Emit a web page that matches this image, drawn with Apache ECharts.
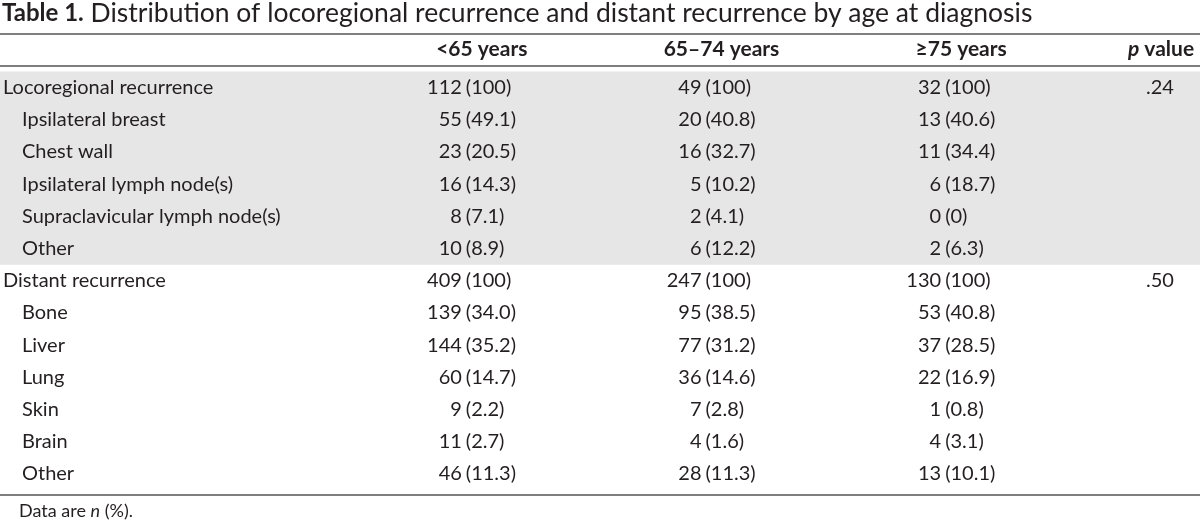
<!DOCTYPE html>
<html><head><meta charset="utf-8">
<script src="https://cdn.jsdelivr.net/npm/echarts@6/dist/echarts.min.js"></script>
<style>html,body{margin:0;padding:0;background:#fff}#c{width:1200px;height:520px}</style>
</head><body><div id="c"></div>
<script>
// ---------------- data ----------------
const titleBold = 'Table 1.';
const titleText = 'Distribution of locoregional recurrence and distant recurrence by age at diagnosis';
const ageHeaders = ['<65 years', '65–74 years', '≥75 years'];
const pHeader = ['p value'];
const rowLabels = [
  'Locoregional recurrence', 'Ipsilateral breast', 'Chest wall', 'Ipsilateral lymph node(s)',
  'Supraclavicular lymph node(s)', 'Other',
  'Distant recurrence', 'Bone', 'Liver', 'Lung', 'Skin', 'Brain', 'Other'
];
const rowIsSubItem = [0, 1, 1, 1, 1, 1, 0, 1, 1, 1, 1, 1, 1];
const shadedRowSpan = [0, 5];
const nUnder65 = [112, 55, 23, 16, 8, 10, 409, 139, 144, 60, 9, 11, 46];
const pctUnder65 = [100, 49.1, 20.5, 14.3, 7.1, 8.9, 100, 34.0, 35.2, 14.7, 2.2, 2.7, 11.3];
const n65to74 = [49, 20, 16, 5, 2, 6, 247, 95, 77, 36, 7, 4, 28];
const pct65to74 = [100, 40.8, 32.7, 10.2, 4.1, 12.2, 100, 38.5, 31.2, 14.6, 2.8, 1.6, 11.3];
const n75plus = [32, 13, 11, 6, 0, 2, 130, 53, 37, 22, 1, 4, 13];
const pct75plus = [100, 40.6, 34.4, 18.7, 0, 6.3, 100, 40.8, 28.5, 16.9, 0.8, 3.1, 10.1];
const pValues = ['.24', '', '', '', '', '', '.50', '', '', '', '', '', ''];
const footnote = 'Data are {i|n} (%).';

// ---------------- build ----------------
const FONT = 'Lato';
const INK = '#231f20';
const FS = 20;
const counts = [nUnder65, n65to74, n75plus];
const pcts = [pctUnder65, pct65to74, pct75plus];
const rowKeys = rowLabels.map((_, i) => 'r' + i);
const cellData = [];
counts.forEach((arr, c) => arr.forEach((n, r) => cellData.push([c, r])));
const pData = [];
pValues.forEach((p, r) => { if (p) pData.push([0, r]); });
function fmtPct(v) { return (v === 100 || v === 0) ? String(v) : v.toFixed(1); }
const txt = (o) => Object.assign({ fontFamily: FONT, fontSize: FS, fill: INK, verticalAlign: 'middle' }, o);
const headerLabel = {
  interval: 0, margin: 22.5, verticalAlign: 'middle',
  fontFamily: FONT, fontSize: 21, fontWeight: 'bold', color: INK,
  rich: { pi: { fontFamily: FONT, fontSize: 21, fontWeight: 'bold', fontStyle: 'italic', color: INK } }
};
const hidden = { axisLine: { show: false }, axisTick: { show: false }, splitLine: { show: false } };

const chart = echarts.init(document.getElementById('c'), null, { renderer: 'canvas' });
chart.setOption({
  animation: false,
  backgroundColor: '#fff',
  title: [
    { text: '{b|' + titleBold + '} ' + titleText, left: 2, top: 0, padding: 0,
      textStyle: { fontFamily: FONT, fontSize: 26.5, fontWeight: 'normal', color: INK,
        rich: { b: { fontFamily: FONT, fontSize: 24, fontWeight: 'bold', color: INK } } } },
    { text: footnote, left: 19, top: 502, padding: 0,
      textStyle: { fontFamily: FONT, fontSize: 18, fontWeight: 'normal', color: INK,
        rich: { i: { fontFamily: FONT, fontSize: 18, fontStyle: 'italic', color: INK } } } }
  ],
  grid: [
    { left: 361, right: 119, top: 71.5, bottom: 30 },
    { left: 1122, right: 0, top: 71.5, bottom: 30 }
  ],
  xAxis: [
    Object.assign({ type: 'category', position: 'top', data: ageHeaders, gridIndex: 0, z: 3, axisLabel: headerLabel }, hidden),
    Object.assign({ type: 'category', position: 'top', data: pHeader, gridIndex: 1, z: 3,
      axisLabel: Object.assign({}, headerLabel, { formatter: (v) => '{pi|p} value' }) }, hidden)
  ],
  yAxis: [
    Object.assign({
      type: 'category', data: rowKeys, inverse: true, gridIndex: 0, z: 3,
      axisLabel: {
        interval: 0, align: 'left', margin: 359,
        fontFamily: FONT, fontSize: FS, color: INK,
        formatter: (v, i) => rowIsSubItem[i] ? '{sub|' + rowLabels[i] + '}' : rowLabels[i],
        rich: { sub: { fontFamily: FONT, fontSize: FS, color: INK, padding: [0, 0, 0, 19] } }
      }
    }, hidden),
    { type: 'category', data: rowKeys, inverse: true, gridIndex: 1, show: false }
  ],
  series: [
    {
      type: 'custom', z: 1, silent: true, xAxisIndex: 0, yAxisIndex: 0,
      data: [shadedRowSpan],
      renderItem: (params, api) => {
        const a = api.coord([0, api.value(0)]);
        const b = api.coord([0, api.value(1)]);
        const h = api.size([0, 1])[1];
        return { type: 'rect', shape: { x: 0, y: a[1] - h / 2, width: api.getWidth(), height: b[1] - a[1] + h },
          style: { fill: '#e6e6e6' } };
      }
    },
    {
      type: 'custom', z: 4, silent: true, xAxisIndex: 0, yAxisIndex: 0,
      data: cellData,
      renderItem: (params, api) => {
        const c = api.value(0), r = api.value(1);
        const p = api.coord([c, r]);
        const ax = p[0] - 16;
        return { type: 'group', children: [
          { type: 'text', style: txt({ text: String(counts[c][r]), x: ax - 4, y: p[1], align: 'right' }) },
          { type: 'text', style: txt({ text: '(' + fmtPct(pcts[c][r]) + ')', x: ax, y: p[1], align: 'left' }) }
        ] };
      }
    },
    {
      type: 'custom', z: 4, silent: true, xAxisIndex: 1, yAxisIndex: 1,
      data: pData,
      renderItem: (params, api) => {
        const r = api.value(1);
        const p = api.coord([api.value(0), r]);
        return { type: 'text', style: txt({ text: pValues[r], x: p[0] - 1, y: p[1], align: 'center' }) };
      }
    }
  ],
  graphic: [
    { type: 'line', shape: { x1: 0, y1: 34, x2: 1200, y2: 34 }, style: { stroke: '#555', lineWidth: 1.3 } },
    { type: 'line', shape: { x1: 0, y1: 66, x2: 1200, y2: 66 }, style: { stroke: '#555', lineWidth: 1.3 } },
    { type: 'line', shape: { x1: 0, y1: 495, x2: 1200, y2: 495 }, style: { stroke: '#555', lineWidth: 1.3 } }
  ]
});
</script></body></html>
